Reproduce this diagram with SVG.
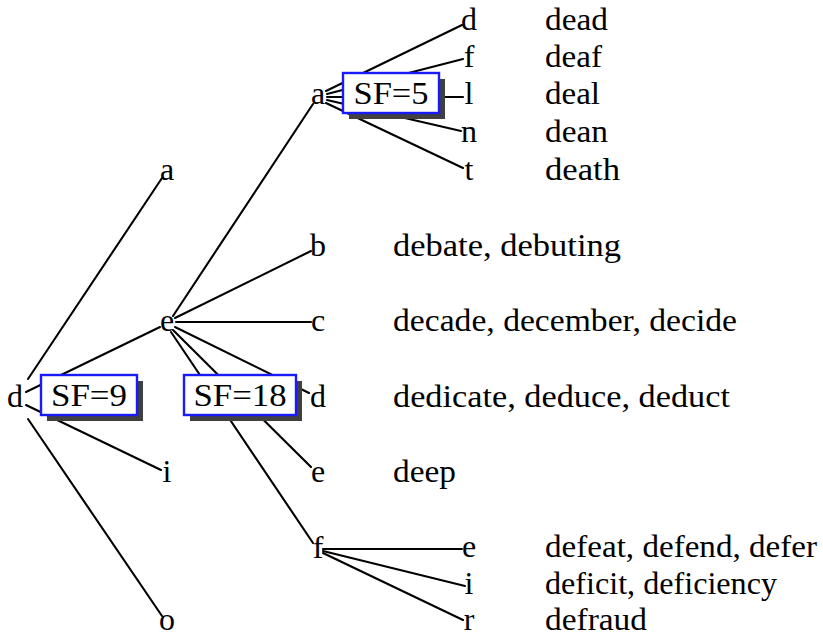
<svg xmlns="http://www.w3.org/2000/svg" width="823" height="638" viewBox="0 0 823 638">
<style>
text{font-family:'Liberation Serif',serif;font-size:32px;fill:#000}
.n{text-anchor:middle}
.e line{stroke:#000;stroke-width:2.1;stroke-linecap:round}
.box{fill:#fff;stroke:#1a1aff;stroke-width:2.4}
.sh{fill:#404040}
</style>
<rect width="823" height="638" fill="#fff"/>
<g id="connectors" class="e">
<line x1="28" y1="379" x2="162" y2="178"/>
<line x1="26" y1="392" x2="160" y2="327"/>
<line x1="26" y1="405" x2="161" y2="470"/>
<line x1="28" y1="419" x2="162" y2="616"/>
<line x1="173" y1="316" x2="313" y2="104"/>
<line x1="175" y1="318" x2="311" y2="251"/>
<line x1="176" y1="322" x2="311" y2="322"/>
<line x1="175" y1="327" x2="309" y2="393"/>
<line x1="173" y1="330" x2="311" y2="467"/>
<line x1="171" y1="332" x2="313" y2="543"/>
<line x1="326" y1="91" x2="462" y2="25"/>
<line x1="327" y1="94" x2="463" y2="59"/>
<line x1="327" y1="97" x2="463" y2="97"/>
<line x1="327" y1="100" x2="461" y2="131"/>
<line x1="326" y1="103" x2="463" y2="168"/>
<line x1="323" y1="549" x2="462" y2="549"/>
<line x1="323" y1="551" x2="465" y2="586"/>
<line x1="323" y1="553" x2="463" y2="620"/>
</g>
<g id="sf9"><rect class="sh" x="47" y="381" width="96" height="40"/><rect class="box" x="41" y="375" width="96" height="40"/><text class="n" x="89" y="406" textLength="76" lengthAdjust="spacingAndGlyphs">SF=9</text></g>
<g id="sf18"><rect class="sh" x="190" y="381" width="112" height="40"/><rect class="box" x="184" y="375" width="112" height="40"/><text class="n" x="240" y="406" textLength="93" lengthAdjust="spacingAndGlyphs">SF=18</text></g>
<g id="sf5"><rect class="sh" x="349" y="79" width="96" height="40"/><rect class="box" x="343" y="73" width="96" height="40"/><text class="n" x="391" y="104" textLength="75" lengthAdjust="spacingAndGlyphs">SF=5</text></g>
<g id="n-d"><text class="n" x="15" y="407">d</text></g>
<g id="n-da"><text class="n" x="167" y="180">a</text></g>
<g id="n-de"><text class="n" x="167" y="331">e</text></g>
<g id="n-di"><text class="n" x="167" y="482">i</text></g>
<g id="n-do"><text class="n" x="167" y="630">o</text></g>
<g id="n-dea"><text class="n" x="318" y="104">a</text></g>
<g id="n-deb"><text class="n" x="318" y="256">b</text><text x="393" y="256" textLength="228" lengthAdjust="spacingAndGlyphs">debate, debuting</text></g>
<g id="n-dec"><text class="n" x="318" y="331">c</text><text x="393" y="331" textLength="344" lengthAdjust="spacingAndGlyphs">decade, december, decide</text></g>
<g id="n-ded"><text class="n" x="318" y="407">d</text><text x="393" y="407" textLength="337" lengthAdjust="spacingAndGlyphs">dedicate, deduce, deduct</text></g>
<g id="n-dee"><text class="n" x="318" y="482">e</text><text x="393" y="482" textLength="63" lengthAdjust="spacingAndGlyphs">deep</text></g>
<g id="n-def"><text class="n" x="318" y="558">f</text></g>
<g id="n-dead"><text class="n" x="469" y="30">d</text><text x="545" y="30" textLength="63" lengthAdjust="spacingAndGlyphs">dead</text></g>
<g id="n-deaf"><text class="n" x="469" y="67">f</text><text x="545" y="67" textLength="57" lengthAdjust="spacingAndGlyphs">deaf</text></g>
<g id="n-deal"><text class="n" x="469" y="104">l</text><text x="545" y="104" textLength="55" lengthAdjust="spacingAndGlyphs">deal</text></g>
<g id="n-dean"><text class="n" x="469" y="142">n</text><text x="545" y="142" textLength="63" lengthAdjust="spacingAndGlyphs">dean</text></g>
<g id="n-deat"><text class="n" x="469" y="180">t</text><text x="545" y="180" textLength="75" lengthAdjust="spacingAndGlyphs">death</text></g>
<g id="n-defe"><text class="n" x="469" y="557">e</text><text x="545" y="557" textLength="272" lengthAdjust="spacingAndGlyphs">defeat, defend, defer</text></g>
<g id="n-defi"><text class="n" x="469" y="594">i</text><text x="545" y="594" textLength="232" lengthAdjust="spacingAndGlyphs">deficit, deficiency</text></g>
<g id="n-defr"><text class="n" x="469" y="630">r</text><text x="545" y="630" textLength="102" lengthAdjust="spacingAndGlyphs">defraud</text></g>
</svg>
